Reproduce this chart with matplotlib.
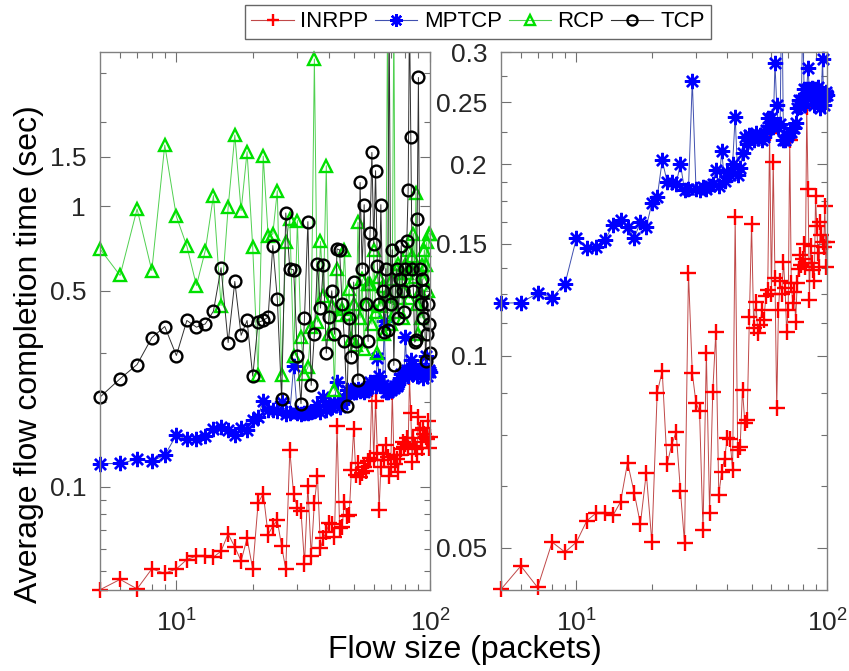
import numpy as np
import matplotlib
matplotlib.use("Agg")
import matplotlib.pyplot as plt
from matplotlib.lines import Line2D
from matplotlib.ticker import FixedLocator, NullFormatter

plt.rcParams["font.family"] = ["Liberation Sans", "DejaVu Sans"]
plt.rcParams["mathtext.default"] = "regular"

# flow sizes 5..100 packets
FLOW_SIZE = list(range(5, 101))

INRPP = [
    0.043, 0.0468, 0.0433, 0.051, 0.0492, 0.051, 0.0551, 0.0567, 0.0567, 0.0562,   # 5-14
    0.059, 0.068, 0.061, 0.0545, 0.0655, 0.051, 0.0875, 0.0947, 0.0676, 0.0725,    # 15-24
    0.076, 0.0614, 0.0509, 0.135, 0.094, 0.0844, 0.0818, 0.0533, 0.101, 0.0567,    # 25-34
    0.0879, 0.109, 0.0605, 0.0658, 0.069, 0.0743, 0.074, 0.0662, 0.165, 0.0712,    # 35-44
    0.072, 0.0885, 0.0785, 0.0792, 0.115, 0.161, 0.1106, 0.1217, 0.1087, 0.112,    # 45-54
    0.118, 0.114, 0.124, 0.127, 0.2238, 0.125, 0.2017, 0.1326, 0.0828, 0.118,      # 55-64
    0.131, 0.125, 0.1406, 0.128, 0.1092, 0.118, 0.218, 0.13, 0.121, 0.126,         # 65-74
    0.1132, 0.13, 0.137, 0.144, 0.139, 0.142, 0.15, 0.138, 0.246, 0.183,           # 75-84
    0.1224, 0.149, 0.14, 0.1365, 0.131, 0.178, 0.16, 0.145, 0.138, 0.162,          # 85-94
    0.155, 0.151, 0.148, 0.172, 0.138, 0.151,                                      # 95-100
]
MPTCP = [
    0.121, 0.1212, 0.1254, 0.1235, 0.1297, 0.153, 0.1476, 0.1484, 0.152, 0.1606,
    0.1635, 0.1595, 0.153, 0.1623, 0.1595, 0.1736, 0.1774, 0.2028, 0.1878, 0.1878,
    0.186, 0.2004, 0.182, 0.183, 0.2703, 0.183, 0.182, 0.184, 0.183, 0.185,
    0.186, 0.1958, 0.185, 0.2097, 0.188, 0.1947, 0.192, 0.2004, 0.2375, 0.1924,
    0.197, 0.208, 0.2207, 0.215, 0.222, 0.2207, 0.218, 0.224, 0.2195, 0.222,
    0.218, 0.221, 0.226, 0.236, 0.23, 0.236, 0.229, 0.288, 0.2478, 0.229,
    0.231, 0.39, 0.218, 0.218, 0.221, 0.2224, 0.225, 0.2247, 0.228, 0.228,
    0.232, 0.245, 0.252, 0.246, 0.252, 0.341, 0.262, 0.249, 0.262, 0.283,
    0.262, 0.254, 0.263, 0.258, 0.248, 0.262, 0.256, 0.264, 0.252, 0.245,
    0.26, 0.293, 0.248, 0.256, 0.26, 0.257,
]
RCP = [
    0.705, 0.567, 0.979, 0.59, 1.654, 0.921, 0.721, 0.522, 0.695, 1.092,
    0.443, 0.992, 1.796, 0.965, 1.566, 0.715, 0.251, 1.51, 0.787, 0.797,
    1.137, 0.25, 0.745, 0.902, 0.294, 0.89, 0.342, 0.253, 0.267, 0.371,
    3.35, 0.387, 0.75, 0.48, 1.396, 0.351, 0.443, 0.221, 0.6, 0.409,
    0.431, 0.7, 0.414, 0.508, 0.337, 0.45, 0.32, 0.877, 0.4, 0.55,
    0.311, 0.45, 0.53, 0.53, 0.38, 0.7, 0.42, 0.3, 0.559, 0.44,
    0.52, 0.35, 0.48, 5.0, 0.48, 0.38, 0.55, 5.0, 0.42, 0.6,
    0.624, 0.47, 0.55, 0.4, 0.5, 0.62, 0.58, 0.7, 0.47, 0.6,
    0.667, 0.8, 0.56, 1.12, 0.45, 0.351, 0.5, 0.4, 0.62, 0.55,
    0.7, 0.62, 0.745, 0.5, 0.8, 0.797,
]
TCP = [
    0.209, 0.243, 0.273, 0.34, 0.373, 0.294, 0.392, 0.371, 0.381, 0.423,
    0.604, 0.327, 0.54, 0.347, 0.392, 0.248, 0.386, 0.392, 0.403, 0.725,
    0.468, 0.206, 0.947, 0.599, 0.594, 0.294, 0.198, 0.401, 0.882, 0.23,
    0.351, 0.624, 0.434, 0.62, 0.3, 0.403, 0.5, 0.35, 0.705, 0.7,
    0.45, 0.33, 0.195, 0.4, 0.29, 0.537, 0.33, 0.24, 1.217, 0.6,
    1.014, 0.45, 0.33, 0.801, 1.557, 0.735, 1.34, 0.615, 0.45, 1.014,
    0.5, 0.358, 0.6, 0.361, 5.0, 0.45, 0.7, 0.271, 0.5, 0.6,
    0.4, 0.55, 0.725, 0.5, 0.42, 0.6, 0.75, 1.147, 5.0, 1.76,
    0.6, 0.5, 0.328, 0.333, 0.902, 2.88, 0.6, 0.45, 0.55, 0.4,
    0.5, 0.282, 0.35, 0.45, 0.38, 0.3,
]

# name, data, marker, marker colour, line colour, marker size
STYLE = [
    ("INRPP", INRPP, "+", "#ff0000", "#c04848", 11),
    ("MPTCP", MPTCP, (8, 2, 0), "#0000ff", "#4050b0", 11),
    ("RCP", RCP, "^", "#00e000", "#50d050", 9),
    ("TCP", TCP, "o", "#000000", "#303030", 8.5),
]

YLIM_L = (0.0429, 3.55)
YLIM_R = (0.0429, 0.3)

fig = plt.figure(figsize=(8.49, 6.71), dpi=100)
axL = fig.add_axes([0.1178, 0.1207, 0.3887, 0.8018])
axR = fig.add_axes([0.5901, 0.1207, 0.384, 0.8018])


def draw(ax, vals, mk, mc, lc, ms, ylim):
    x = np.array(FLOW_SIZE, dtype=float)
    y = np.array(vals)
    ax.plot(x, y, color=lc, lw=0.7)
    keep = (y >= ylim[0] * 0.999) & (y <= ylim[1])
    # markers are not clipped at the frame (like the original)
    ax.plot(x[keep], y[keep], ls="none", marker=mk, ms=ms, mec=mc, mfc="none",
            mew=1.7, clip_on=False)


handles = []
for name, vals, mk, mc, lc, ms in STYLE:
    draw(axL, vals, mk, mc, lc, ms, YLIM_L)
    if name in ("INRPP", "MPTCP"):
        draw(axR, vals, mk, mc, lc, ms, YLIM_R)
    handles.append(Line2D([], [], color=lc, lw=0.8, marker=mk, ms=ms * 0.85,
                          mec=mc, mfc="none", mew=1.7, label=name))

for ax in (axL, axR):
    ax.set_xscale("log")
    ax.set_yscale("log")
    ax.set_xlim(5, 100)
    ax.xaxis.set_major_locator(FixedLocator([10, 100]))
    ax.xaxis.set_minor_locator(FixedLocator([6, 7, 8, 9, 20, 30, 40, 50, 60, 70, 80, 90]))
    ax.xaxis.set_minor_formatter(NullFormatter())
    ax.tick_params(which="both", direction="in", top=True, right=True,
                   color="#707070", labelcolor="#262626", labelsize=19)
    ax.tick_params(which="major", length=7, width=0.8)
    ax.tick_params(which="minor", length=4, width=0.8)
    ax.tick_params(axis="x", pad=14)
    ax.tick_params(axis="y", pad=10)
    for sp in ax.spines.values():
        sp.set_color("#808080")
        sp.set_linewidth(1.0)

axL.set_ylim(*YLIM_L)
axL.yaxis.set_major_locator(FixedLocator([0.1, 0.5, 1, 1.5]))
axL.set_yticklabels(["0.1", "0.5", "1", "1.5"])
axL.yaxis.set_minor_locator(FixedLocator([0.05, 0.06, 0.07, 0.08, 0.09, 0.2, 0.3, 2, 3]))
axL.yaxis.set_minor_formatter(NullFormatter())

axR.set_ylim(*YLIM_R)
axR.yaxis.set_major_locator(FixedLocator([0.05, 0.1, 0.15, 0.2, 0.25, 0.3]))
axR.set_yticklabels(["0.05", "0.1", "0.15", "0.2", "0.25", "0.3"])
axR.yaxis.set_minor_locator(FixedLocator([0.0625, 0.075, 0.0875, 0.1125, 0.125, 0.1375,
                                          0.1625, 0.175, 0.1875, 0.225, 0.275]))
axR.yaxis.set_minor_formatter(NullFormatter())

fig.text(0.034, 0.472, "Average flow completion time (sec)", rotation=90,
         ha="center", va="center", fontsize=23)
fig.text(0.547, 0.0194, "Flow size (packets)", ha="center", va="baseline", fontsize=23)

leg = fig.legend(handles, [h.get_label() for h in handles], ncol=4,
                 loc="upper center", bbox_to_anchor=(0.563, 0.993), fontsize=16,
                 frameon=True, fancybox=False, edgecolor="#404040",
                 handlelength=1.9, handletextpad=0.3, columnspacing=0.3,
                 borderpad=0.3, borderaxespad=0.0)
leg.get_frame().set_linewidth(1.0)

fig.savefig("out.png", dpi=100)
